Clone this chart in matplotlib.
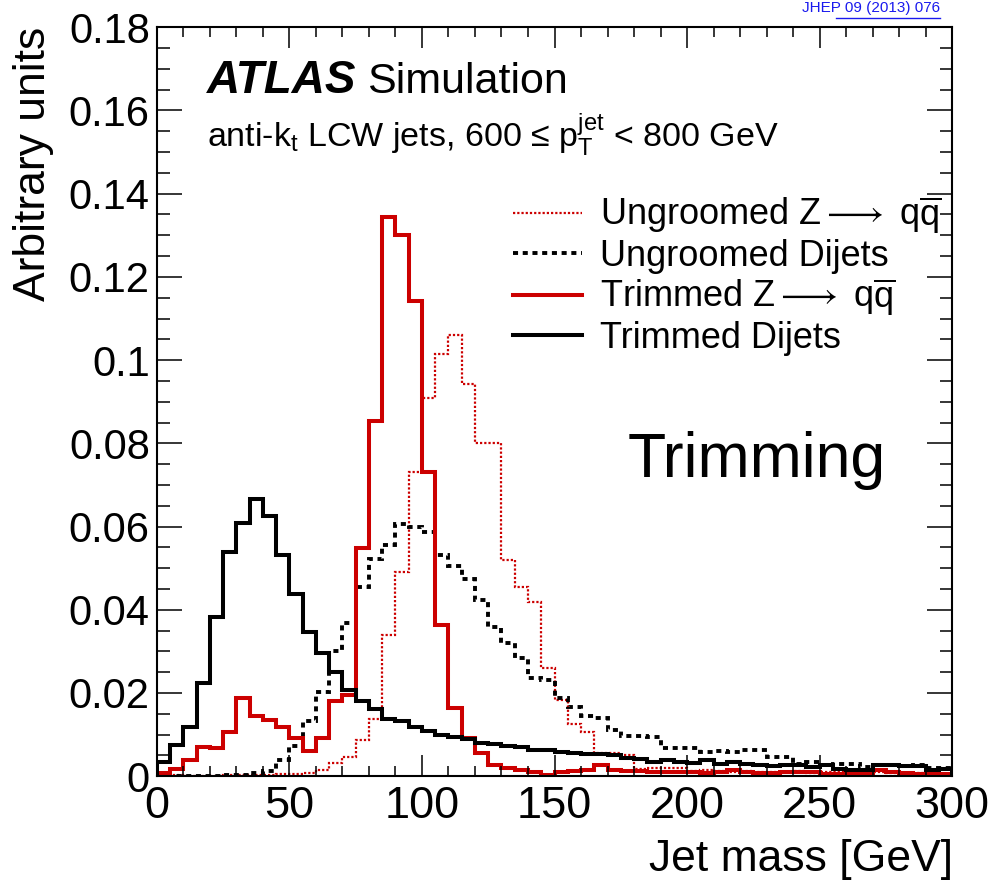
import numpy as np
import matplotlib
matplotlib.use("Agg")
import matplotlib.pyplot as plt
from matplotlib.lines import Line2D
from matplotlib.ticker import MultipleLocator, FormatStrFormatter

plt.rcParams['font.family'] = ['Liberation Sans', 'DejaVu Sans']
plt.rcParams['mathtext.fontset'] = 'custom'
plt.rcParams['mathtext.rm'] = 'Liberation Sans'
plt.rcParams['mathtext.it'] = 'Liberation Sans:italic'
plt.rcParams['mathtext.bf'] = 'Liberation Sans:bold'

# bin edges: 5 GeV bins from 0 to 300 GeV
edges = np.arange(0, 305, 5)

# ungroomed Z -> qqbar (red dotted)
ungroomed_z = [0.0003, 0.0002, 0.0001, 0.0001, 0.0001, 0.0002, 0.0002, 0.0003, 0.0003, 0.0004,
               0.0004, 0.0008, 0.0015, 0.0032, 0.0045, 0.0087, 0.0138, 0.0340, 0.0491, 0.0732,
               0.0909, 0.1015, 0.1060, 0.0943, 0.0800, 0.0800, 0.0519, 0.0455, 0.0419, 0.0259,
               0.0184, 0.0125, 0.0107, 0.0055, 0.0055, 0.0050, 0.0018, 0.0020, 0.0020, 0.0020,
               0.0012, 0.0015, 0.0012, 0.0010, 0.0012, 0.0010, 0.0009, 0.0010, 0.0012, 0.0008,
               0.0009, 0.0010, 0.0008, 0.0007, 0.0010, 0.0008, 0.0006, 0.0008, 0.0006, 0.0005]

# ungroomed dijets (black dashed)
ungroomed_dijet = [0.0001, 0.0001, 0.0001, 0.0001, 0.0001, 0.0002, 0.0003, 0.0007, 0.0012, 0.0040,
                   0.0072, 0.0133, 0.0203, 0.0300, 0.0368, 0.0454, 0.0523, 0.0555, 0.0606, 0.0600,
                   0.0586, 0.0532, 0.0505, 0.0475, 0.0423, 0.0358, 0.0321, 0.0284, 0.0235, 0.0231,
                   0.0187, 0.0167, 0.0144, 0.0140, 0.0112, 0.0096, 0.0096, 0.0094, 0.0067, 0.0068,
                   0.0068, 0.0058, 0.0060, 0.0058, 0.0062, 0.0064, 0.0046, 0.0046, 0.0030, 0.0034,
                   0.0026, 0.0030, 0.0030, 0.0022, 0.0026, 0.0028, 0.0024, 0.0028, 0.0020, 0.0020]

# trimmed Z -> qqbar (red solid)
trimmed_z = [0.0008, 0.0018, 0.0040, 0.0070, 0.0067, 0.0105, 0.0189, 0.0145, 0.0135, 0.0119,
             0.0091, 0.0061, 0.0091, 0.0180, 0.0194, 0.0548, 0.0853, 0.1345, 0.1300, 0.1143,
             0.0730, 0.0364, 0.0163, 0.0092, 0.0055, 0.0028, 0.0020, 0.0016, 0.0010, 0.0003,
             0.0010, 0.0013, 0.0015, 0.0026, 0.0015, 0.0013, 0.0013, 0.0010, 0.0010, 0.0010,
             0.0010, 0.0008, 0.0009, 0.0016, 0.0009, 0.0008, 0.0008, 0.0009, 0.0010, 0.0010,
             0.0005, 0.0006, 0.0005, 0.0005, 0.0014, 0.0011, 0.0008, 0.0005, 0.0006, 0.0004]

# trimmed dijets (black solid)
trimmed_dijet = [0.0034, 0.0075, 0.0117, 0.0224, 0.0383, 0.0539, 0.0609, 0.0666, 0.0625, 0.0531,
                 0.0439, 0.0347, 0.0296, 0.0250, 0.0206, 0.0181, 0.0161, 0.0138, 0.0132, 0.0117,
                 0.0108, 0.0099, 0.0095, 0.0089, 0.0080, 0.0077, 0.0073, 0.0071, 0.0064, 0.0062,
                 0.0057, 0.0055, 0.0054, 0.0053, 0.0050, 0.0044, 0.0042, 0.0035, 0.0038, 0.0035,
                 0.0032, 0.0038, 0.0030, 0.0033, 0.0030, 0.0026, 0.0024, 0.0028, 0.0028, 0.0022,
                 0.0026, 0.0017, 0.0015, 0.0015, 0.0028, 0.0026, 0.0024, 0.0024, 0.0015, 0.0017]

labels = [r'Ungroomed Z$\longrightarrow$ q$\overline{\mathrm{q}}$', 'Ungroomed Dijets',
          r'Trimmed Z$\longrightarrow$ q$\overline{\mathrm{q}}$', 'Trimmed Dijets']

red = '#cc0000'
fig = plt.figure(figsize=(9.92, 8.8), dpi=100)
ax = fig.add_axes([0.158, 0.118, 0.802, 0.851])

ax.stairs(ungroomed_z, edges, color=red, lw=1.6, linestyle=(0, (1.0, 0.9)))
ax.stairs(ungroomed_dijet, edges, color='black', lw=2.8, linestyle=(0, (1.3, 1.2)))
ax.stairs(trimmed_z, edges, color=red, lw=2.9)
ax.stairs(trimmed_dijet, edges, color='black', lw=2.9)

ax.set_xlim(0, 300)
ax.set_ylim(0, 0.18)
ax.xaxis.set_major_locator(MultipleLocator(50))
ax.xaxis.set_minor_locator(MultipleLocator(10))
ax.yaxis.set_major_locator(MultipleLocator(0.02))
ax.yaxis.set_minor_locator(MultipleLocator(0.005))
ax.yaxis.set_major_formatter(FormatStrFormatter('%g'))
ax.tick_params(which='both', direction='in', top=True, right=True, width=1.1)
ax.tick_params(axis='x', which='major', length=15, labelsize=32.5, pad=7)
ax.tick_params(axis='x', which='minor', length=7.5)
ax.tick_params(axis='y', which='major', length=18, labelsize=30, pad=5)
ax.tick_params(axis='y', which='minor', length=9)
for s in ax.spines.values():
    s.set_linewidth(1.5)

fig.text(0.034, 0.970, 'Arbitrary units', rotation=90, ha='center', va='top', fontsize=32)
fig.text(0.961, 0.023, 'Jet mass [GeV]', ha='right', va='center', fontsize=32)

ax.text(0.063, 0.912, 'ATLAS', transform=ax.transAxes, fontsize=33,
        fontweight='bold', style='italic', va='baseline')
ax.text(0.264, 0.912, 'Simulation', transform=ax.transAxes, fontsize=31, va='baseline')
ax.text(0.063, 0.840, r'anti-k$_{\mathrm{t}}$ LCW jets, 600 ≤ p$_{\mathrm{T}}^{\mathrm{jet}}$ < 800 GeV',
        transform=ax.transAxes, fontsize=24.5, va='baseline')
ax.text(0.592, 0.399, 'Trimming', transform=ax.transAxes, fontsize=45, va='baseline')

handles = [Line2D([], [], color=red, lw=1.6, linestyle=(0, (1.0, 0.9))),
           Line2D([], [], color='black', lw=2.8, linestyle=(0, (1.3, 1.2))),
           Line2D([], [], color=red, lw=2.9),
           Line2D([], [], color='black', lw=2.9)]
ax.legend(handles, labels, loc='upper left', bbox_to_anchor=(0.448, 0.777),
          frameon=False, fontsize=26, handlelength=1.9, handletextpad=0.5,
          borderpad=0, borderaxespad=0, labelspacing=0.08)

fig.text(0.948, 0.991, 'JHEP 09 (2013) 076', ha='right', va='center',
         fontsize=11, color='#1a1aee')
fig.add_artist(Line2D([0.843, 0.948], [0.979, 0.979], transform=fig.transFigure,
                      color='#1a1aee', lw=1))

fig.savefig('out.png', dpi=100)
